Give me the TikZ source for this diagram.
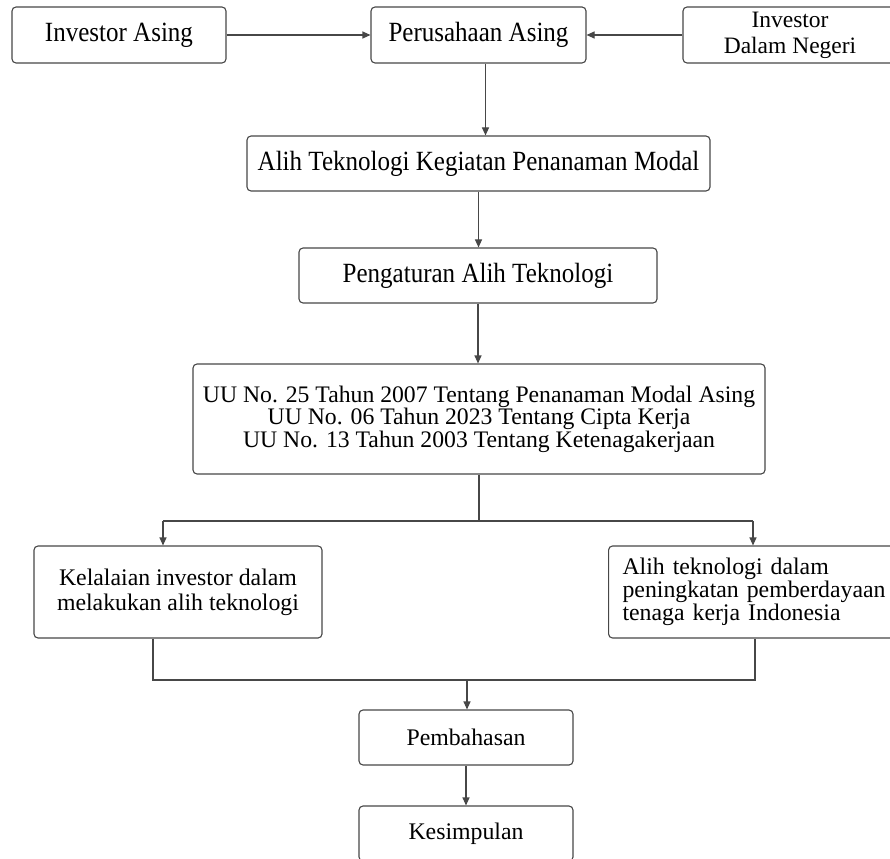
\documentclass[tikz,border=0pt]{standalone}
\usepackage{fontspec}
\setmainfont{Liberation Serif}
\newfontfamily\tallserif{Liberation Serif}[FakeStretch=0.9]
\usetikzlibrary{arrows.meta,positioning}
\begin{document}
\begin{tikzpicture}[x=1pt,y=-1pt,
  box/.style={draw=black!72,line width=1.1pt,rounded corners=4pt,inner sep=0pt,
    align=center,text=black},
  bigfont/.style={font=\tallserif\fontsize{27.8}{28}\selectfont},
  smallfont/.style={font=\fontsize{23.8}{25}\selectfont},
  link/.style={draw=black!72,line width=1.1pt},
  arr/.style={link,-{Triangle[length=8pt,width=7pt]}}]
\useasboundingbox (0,0) rectangle (890,858);
% top row
\node[box,bigfont,minimum width=214pt,minimum height=56pt] (ia) at (119,35) {Investor Asing};
\node[box,bigfont,minimum width=215pt,minimum height=56pt] (per) at (478.5,35) {Perusahaan Asing};
\node[box,font=\fontsize{23.5}{26}\selectfont,minimum width=214pt,minimum height=56pt] (idn) at (790,35) {Investor\\Dalam Negeri};
% middle column
\node[box,bigfont,minimum width=463pt,minimum height=55pt] (alih) at (478.5,163.5) {Alih Teknologi Kegiatan Penanaman Modal};
\node[box,bigfont,minimum width=358pt,minimum height=55pt] (peng) at (478,275.5) {Pengaturan Alih Teknologi};
\node[box,font=\fontsize{23.7}{22.5}\selectfont,minimum width=572pt,minimum height=110pt] (uu) at (479,419)
  {UU No. 25 Tahun 2007 Tentang Penanaman Modal Asing\\UU No. 06 Tahun 2023 Tentang Cipta Kerja\\UU No. 13 Tahun 2003 Tentang Ketenagakerjaan};
% lower pair
\node[box,smallfont,minimum width=288pt,minimum height=92pt] (kel) at (178,592)
  {Kelalaian investor dalam\\melakukan alih teknologi};
\node[box,font=\fontsize{23.8}{23}\selectfont,align=left,anchor=west,text width=276pt,inner xsep=14pt,minimum height=92pt] (rt) at (608,592)
  {Alih teknologi dalam\\peningkatan pemberdayaan\\tenaga kerja Indonesia};
% bottom
\node[box,smallfont,minimum width=214pt,minimum height=55pt] (pem) at (466,737.5) {Pembahasan};
\node[box,smallfont,minimum width=214pt,minimum height=55pt] (kes) at (466,833.5) {Kesimpulan};
% connectors
\draw[arr] (ia.east) -- (per.west);
\draw[arr] (idn.west) -- (per.east);
\draw[arr] ([xshift=7pt]per.south) -- ([xshift=7pt]per.south |- alih.north);
\draw[arr] (alih.south) -- (alih.south |- peng.north);
\draw[arr] (peng.south) -- (peng.south |- uu.north);
\coordinate (j1) at (479,521);
\coordinate (jl) at (163,521);
\coordinate (jr) at (753,521);
\draw[link] (uu.south) -- (j1);
\draw[link] (jl) -- (jr);
\draw[arr] (jl) -- (jl |- kel.north);
\draw[arr] (jr) -- (jr |- rt.north);
\coordinate (kl) at (153,680);
\coordinate (kr) at (755,680);
\coordinate (km) at (467,680);
\draw[link] (kel.south -| kl) -- (kl) -- (kr) -- (rt.south -| kr);
\draw[arr] (km) -- (pem.north -| km);
\draw[arr] (pem.south) -- (kes.north);
\end{tikzpicture}
\end{document}
